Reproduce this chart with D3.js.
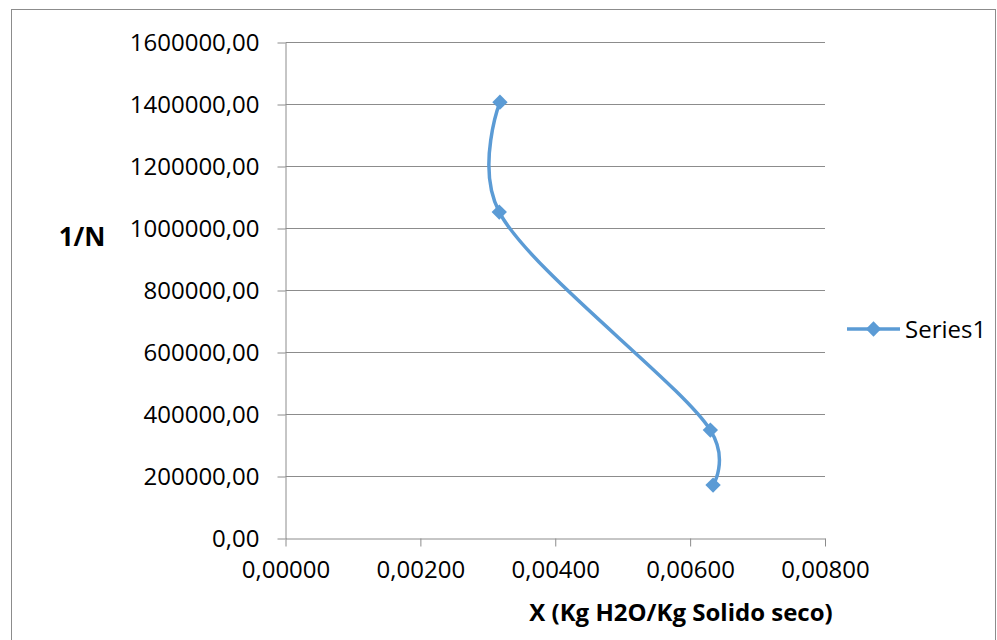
<!DOCTYPE html>
<html>
<head>
<meta charset="utf-8">
<script src="https://cdn.jsdelivr.net/npm/d3@7"></script>
<style>
  body { margin: 0; background: #fff; }
  svg text { font-family: "Open Sans", "Noto Sans", sans-serif; fill: #000; }
</style>
</head>
<body>
<svg id="chart" width="997" height="640"></svg>
<script>
// data
var xValues = [0.00318, 0.00317, 0.00630, 0.00634];
var yValues = [1407600, 1053000, 349600, 172400];
var xTicks = [0, 0.002, 0.004, 0.006, 0.008];
var yTicks = [0, 200000, 400000, 600000, 800000, 1000000, 1200000, 1400000, 1600000];
var seriesName = "Series1";
var xTitle = "X (Kg H2O/Kg Solido seco)";
var yTitle = "1/N";

var chart = {};
chart.margins = { left: 285.5, right: 825, top: 42.5, bottom: 538.5 };
chart.color = "#5B9BD5";
chart.gridColor = "#8c8c8c";

var svg = d3.select("#chart");

// outer frame
svg.append("rect")
    .attr("x", 11.5).attr("y", 9.5)
    .attr("width", 984).attr("height", 640)
    .attr("fill", "none")
    .attr("stroke", "#8c8c8c")
    .attr("stroke-width", 1);

var x = d3.scaleLinear().domain([0, 0.008]).range([chart.margins.left, chart.margins.right]);
var y = d3.scaleLinear().domain([0, 1600000]).range([chart.margins.bottom, chart.margins.top]);

var commaFmt = function(dec) {
    return function(d) { return d3.format("." + dec + "f")(d).replace(".", ","); };
};

// horizontal gridlines
svg.append("g")
    .selectAll("line")
    .data(yTicks.filter(function(d) { return d > 0; }))
    .enter().append("line")
    .attr("x1", chart.margins.left).attr("x2", chart.margins.right)
    .attr("y1", function(d) { return y(d); })
    .attr("y2", function(d) { return y(d); })
    .attr("stroke", chart.gridColor)
    .attr("stroke-width", 1);

// y axis
var yAxis = svg.append("g")
    .attr("transform", "translate(" + chart.margins.left + ",0)")
    .call(d3.axisLeft(y).tickValues(yTicks).tickFormat(commaFmt(2)).tickSize(8).tickSizeOuter(0).tickPadding(18));
yAxis.selectAll("text").style("font-size", "24px");

// x axis
var xAxis = svg.append("g")
    .attr("transform", "translate(0," + chart.margins.bottom + ")")
    .call(d3.axisBottom(x).tickValues(xTicks).tickFormat(commaFmt(5)).tickSize(8).tickSizeOuter(0).tickPadding(14));
xAxis.selectAll("text").style("font-size", "24px");

svg.selectAll(".domain, .tick line").attr("stroke", chart.gridColor);

// axis titles
svg.append("text")
    .attr("x", 82).attr("y", 246)
    .attr("text-anchor", "middle")
    .style("font-size", "26px").style("font-weight", "bold")
    .text(yTitle);

svg.append("text")
    .attr("x", 681).attr("y", 621)
    .attr("text-anchor", "middle")
    .style("font-size", "24px").style("font-weight", "bold")
    .text(xTitle);

// series
var points = xValues.map(function(d, i) { return [d, yValues[i]]; });

var line = d3.line()
    .x(function(d) { return x(d[0]); })
    .y(function(d) { return y(d[1]); })
    .curve(d3.curveCatmullRom.alpha(0.25));

svg.append("path")
    .datum(points)
    .attr("d", line)
    .attr("fill", "none")
    .attr("stroke", chart.color)
    .attr("stroke-width", 3.5);

var diamond = d3.symbol().type(d3.symbolDiamond2).size(150);

svg.append("g")
    .selectAll("path")
    .data(points)
    .enter().append("path")
    .attr("d", diamond)
    .attr("transform", function(d) { return "translate(" + x(d[0]) + "," + y(d[1]) + ")"; })
    .attr("fill", chart.color);

// legend
var legend = svg.append("g").attr("transform", "translate(847,329)");
legend.append("line")
    .attr("x1", 0).attr("x2", 53)
    .attr("stroke", chart.color).attr("stroke-width", 3.5);
legend.append("path")
    .attr("d", diamond)
    .attr("transform", "translate(26.5,0)")
    .attr("fill", chart.color);
legend.append("text")
    .attr("x", 58).attr("y", 9)
    .style("font-size", "24px")
    .text(seriesName);
</script>
</body>
</html>
